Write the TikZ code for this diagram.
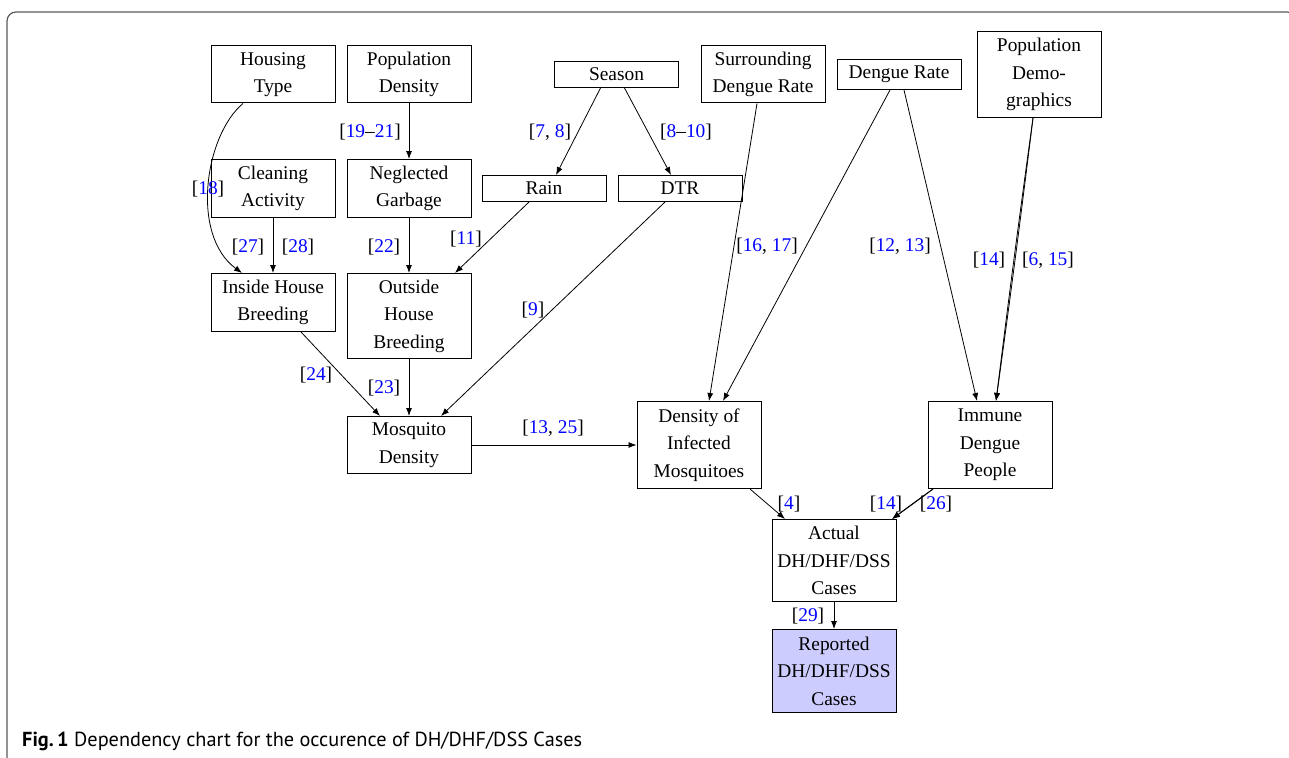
\documentclass[tikz,border=0pt]{standalone}
\usepackage{fontspec}
\setmainfont{Liberation Serif}
\newfontfamily\capfont{PT Sans}
\usetikzlibrary{arrows.meta}
\definecolor{refblue}{rgb}{0,0,1}
\definecolor{repfill}{RGB}{204,204,255}
\definecolor{framegray}{RGB}{90,90,90}
\newcommand\rf[1]{[#1]}
\newcommand\bn[1]{\textcolor{refblue}{#1}}
\tikzset{
  box/.style={draw, line width=1pt, minimum width=124, inner sep=0pt, align=center, font=\fontsize{19.4}{27.5}\selectfont},
  arr/.style={-{Latex[length=8,width=6]}, line width=0.8pt},
  lab/.style={inner sep=0pt, yshift=-2, font=\fontsize{19.4}{23}\selectfont},
}
\begin{document}
\begin{tikzpicture}[x=1pt,y=-1pt]
\useasboundingbox (0,0) rectangle (1289,757);
\draw[framegray, line width=1.2pt, rounded corners=9] (7,770) -- (7,12) -- (1296,12) -- (1296,770);

% nodes
\node[box, minimum height=57] (ht) at (273,74.5) {Housing\\Type};
\node[box, minimum height=57] (pd) at (409,74.5) {Population\\Density};
\node[box, minimum height=26] (sea) at (616.5,74.5) {Season};
\node[box, minimum height=57] (sdr) at (763,74.5) {Surrounding\\Dengue Rate};
\node[box, minimum height=30] (dr) at (899,74.5) {Dengue Rate};
\node[box, minimum height=86] (pdem) at (1039,74.5) {Population\\Demo-\\graphics};
\node[box, minimum height=58] (ca) at (273,188.5) {Cleaning\\Activity};
\node[box, minimum height=58] (ng) at (409,188.5) {Neglected\\Garbage};
\node[box, minimum height=26] (rain) at (544,188.5) {Rain};
\node[box, minimum height=26] (dtr) at (680,188.5) {DTR};
\node[box, minimum height=58] (ihb) at (273,302.5) {Inside House\\Breeding};
\node[box, minimum height=85] (ohb) at (409,316) {Outside\\House\\Breeding};
\node[box, minimum height=57] (md) at (409,445) {Mosquito\\Density};
\node[box, minimum height=87] (dim) at (699,445) {Density of\\Infected\\Mosquitoes};
\node[box, minimum height=87] (imm) at (990,445) {Immune\\Dengue\\People};
\node[box, minimum height=82] (act) at (834,560.5) {Actual\\DH/DHF/DSS\\Cases};
\node[box, minimum height=83, fill=repfill] (rep) at (834,671) {Reported\\DH/DHF/DSS\\Cases};

% edges
\draw[arr] ([xshift=-30]ht.south) .. controls (205,135) and (190,235) .. ([xshift=-31]ihb.north);
\draw[arr] (pd.south) -- (ng.north);
\draw[arr] ([xshift=-16]sea.south) -- ([xshift=12]rain.north);
\draw[arr] ([xshift=8]sea.south) -- ([xshift=-9]dtr.north);
\draw[arr] ([xshift=-6]sdr.south) -- ([xshift=10]dim.north);
\draw[arr] ([xshift=-9]dr.south) -- ([xshift=24]dim.north);
\draw[arr] ([xshift=5]dr.south) -- ([xshift=-13]imm.north);
\draw[arr] ([xshift=-6]pdem.south) to[bend left=0.4] ([xshift=6]imm.north);
\draw[arr] ([xshift=-6]pdem.south) to[bend right=0.4] ([xshift=6]imm.north);
\draw[arr] (ca.south) -- (ihb.north);
\draw[arr] (ng.south) -- (ohb.north);
\draw[arr] ([xshift=-15]rain.south) -- ([xshift=46]ohb.north);
\draw[arr] ([xshift=-15]dtr.south) -- ([xshift=32]md.north);
\draw[arr] ([xshift=28]ihb.south) -- ([xshift=-29]md.north);
\draw[arr] (ohb.south) -- (md.north);
\draw[arr] (md.east) -- (dim.west);
\draw[arr] ([xshift=51]dim.south) -- ([xshift=-49]act.north);
\draw[arr] ([xshift=-57]imm.south) to[bend left=0.6] ([xshift=58]act.north);
\draw[arr] ([xshift=-57]imm.south) to[bend right=0.6] ([xshift=58]act.north);
\draw[arr] (act.south) -- (rep.north);

% labels
\node[lab] (l18) at (208,187) {\rf{\bn{18}}};
\node[lab] (l1921) at (370,130) {\rf{\bn{19}--\bn{21}}};
\node[lab] (l78) at (550,130) {\rf{\bn{7}, \bn{8}}};
\node[lab] (l810) at (686,130) {\rf{\bn{8}--\bn{10}}};
\node[lab] (l1617) at (767,244) {\rf{\bn{16}, \bn{17}}};
\node[lab] (l1213) at (900,244) {\rf{\bn{12}, \bn{13}}};
\node[lab] (l14a) at (989,258) {\rf{\bn{14}}};
\node[lab] (l615) at (1048,258) {\rf{\bn{6}, \bn{15}}};
\node[lab] (l27) at (248,245) {\rf{\bn{27}}};
\node[lab] (l28) at (298,245) {\rf{\bn{28}}};
\node[lab] (l22) at (384,245) {\rf{\bn{22}}};
\node[lab] (l11) at (466,237) {\rf{\bn{11}}};
\node[lab] (l9) at (533,308) {\rf{\bn{9}}};
\node[lab] (l24) at (316,373) {\rf{\bn{24}}};
\node[lab] (l23) at (384,386) {\rf{\bn{23}}};
\node[lab] (l1325) at (553,426) {\rf{\bn{13}, \bn{25}}};
\node[lab] (l4) at (789,502) {\rf{\bn{4}}};
\node[lab] (l14b) at (886,502) {\rf{\bn{14}}};
\node[lab] (l26) at (936,502) {\rf{\bn{26}}};
\node[lab] (l29) at (808,614) {\rf{\bn{29}}};

% caption
\node[anchor=base west, inner sep=0pt, font=\capfont\fontsize{20.3}{23}\selectfont] (cap) at (22,746) {\textbf{Fig.\,1} Dependency chart for the occurence of DH/DHF/DSS Cases};
\end{tikzpicture}
\end{document}
